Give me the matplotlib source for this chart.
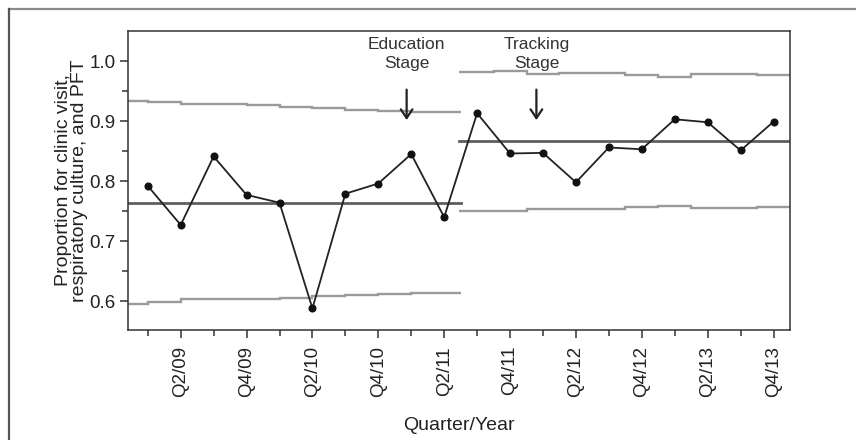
import matplotlib
matplotlib.use("Agg")
import matplotlib.pyplot as plt
import numpy as np

plt.rcParams['font.family'] = ['Liberation Sans', 'DejaVu Sans']

# ---- data ----
quarters = ["Q1/09", "Q2/09", "Q3/09", "Q4/09", "Q1/10", "Q2/10", "Q3/10", "Q4/10",
            "Q1/11", "Q2/11", "Q3/11", "Q4/11", "Q1/12", "Q2/12", "Q3/12", "Q4/12",
            "Q1/13", "Q2/13", "Q3/13", "Q4/13"]
proportion = [0.792, 0.727, 0.841, 0.777, 0.764, 0.588, 0.779, 0.796, 0.845, 0.740,
              0.913, 0.846, 0.847, 0.798, 0.856, 0.853, 0.903, 0.898, 0.851, 0.899]

# phase 1 (quarters 0-9), phase 2 (quarters 10-19)
center1 = 0.764
center2 = 0.867
ucl1 = [0.934, 0.932, 0.928, 0.928, 0.926, 0.924, 0.921, 0.919, 0.917, 0.915, 0.915]
lcl1 = [0.596, 0.598, 0.603, 0.603, 0.604, 0.606, 0.609, 0.611, 0.612, 0.614, 0.614]
ucl2 = [0.982, 0.984, 0.979, 0.980, 0.980, 0.977, 0.974, 0.978, 0.978, 0.976]
lcl2 = [0.751, 0.7495, 0.754, 0.754, 0.753, 0.757, 0.759, 0.7555, 0.7555, 0.757]

annotations = [("Education\nStage", 7.86), ("Tracking\nStage", 11.8)]

# ---- figure ----
fig = plt.figure(figsize=(8.56, 4.40), dpi=100)
ax = fig.add_axes([128/856, 1-330/440, (790-128)/856, (330-31)/440])

x = np.arange(len(quarters))
xmin, xmax = -0.6, 19.5
split = 9.5

lim_col = '#9a9a9a'
cl_col = '#5e5e5e'

# phase 1 stairs
edges1 = np.concatenate([[xmin], np.arange(0, 10), [split]])
ax.stairs(ucl1, edges1, color=lim_col, lw=1.7, baseline=None)
ax.stairs(lcl1, edges1, color=lim_col, lw=1.7, baseline=None)
ax.plot([xmin, split], [center1, center1], color=cl_col, lw=2.0)

# phase 2 stairs
edges2 = np.concatenate([[9.45], np.arange(10, 19) + 0.5, [xmax]])
ax.stairs(ucl2, edges2, color=lim_col, lw=1.7, baseline=None)
ax.stairs(lcl2, edges2, color=lim_col, lw=1.7, baseline=None)
ax.plot([9.45, xmax], [center2, center2], color=cl_col, lw=2.0)

# data
ax.plot(x, proportion, color='#222222', lw=1.3, marker='o', ms=4.8,
        mfc='#111111', mec='#111111', zorder=5)

ax.set_xlim(xmin, xmax)
ax.set_ylim(0.552, 1.05)

ax.set_xticks(x[1::2])
ax.set_xticklabels(quarters[1::2], rotation=90, fontsize=13.5, color='#222222')
ax.set_xticks(x[0::2], minor=True)
ax.set_yticks([0.6, 0.7, 0.8, 0.9, 1.0])
ax.set_yticklabels(["0.6", "0.7", "0.8", "0.9", "1.0"], fontsize=13.5, color='#222222')
ax.set_yticks([0.65, 0.75, 0.85, 0.95], minor=True)
ax.tick_params(axis='both', which='major', length=5.5, width=1.1, color='#333333')
ax.tick_params(axis='y', which='major', pad=3.5)
ax.tick_params(axis='x', which='major', pad=6)
ax.tick_params(axis='both', which='minor', length=4, width=1.1, color='#333333')
for s in ax.spines.values():
    s.set_color('#333333')
    s.set_linewidth(1.1)

ax.set_xlabel("Quarter/Year", fontsize=14, color='#222222', labelpad=14)
ax.set_ylabel("Proportion for clinic visit,\nrespiratory culture, and PFT",
              fontsize=14, color='#222222', linespacing=0.95)
ax.yaxis.set_label_coords((88 - 128) / 662, 0.5)

for txt, xp in annotations:
    ax.annotate("", xy=(xp, 0.897), xytext=(xp, 0.957),
                arrowprops=dict(arrowstyle='->,head_length=0.45,head_width=0.3',
                                color='#222222', lw=1.6, mutation_scale=14))
    ax.text(xp, 1.012, txt, ha='center', va='center', fontsize=12.5,
            color='#333333', linespacing=1.3)

# outer frame lines (top and left)
fig.add_artist(plt.Line2D([9/856, 1.0], [1-9/440, 1-9/440], transform=fig.transFigure,
                          color='#8a8a8a', lw=1.6))
fig.add_artist(plt.Line2D([9/856, 9/856], [0, 1-9/440], transform=fig.transFigure,
                          color='#555555', lw=1.6))

fig.savefig("out.png", dpi=100)
